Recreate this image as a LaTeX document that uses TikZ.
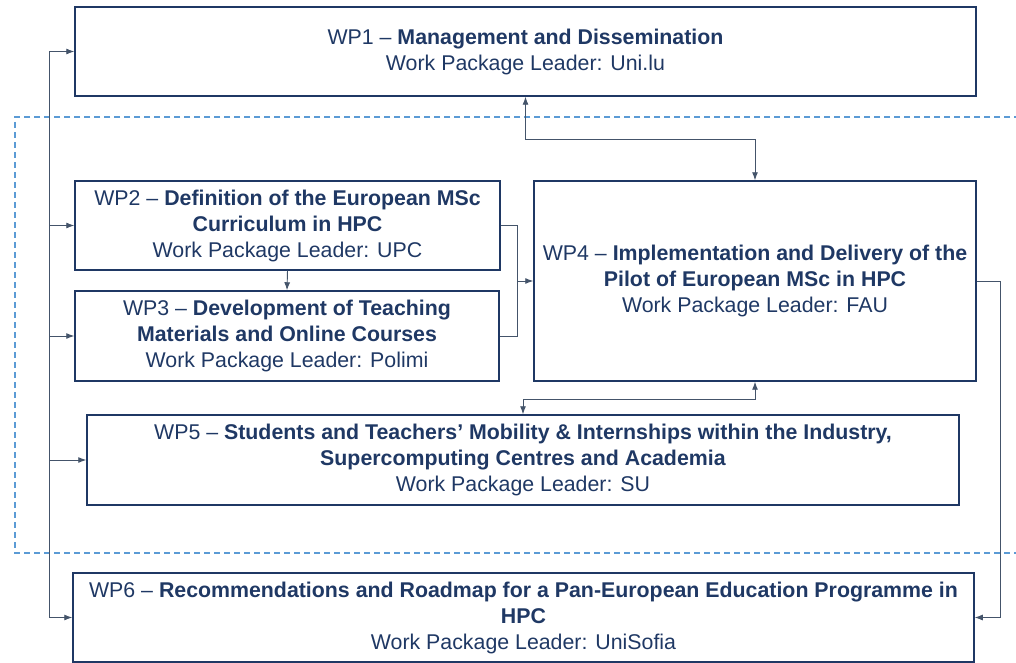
\documentclass[tikz,border=0pt]{standalone}
\usepackage{fontspec}
\setmainfont{Liberation Sans}
\usetikzlibrary{arrows.meta}
\definecolor{navy}{HTML}{1F3864}
\definecolor{linkgrey}{HTML}{44546A}
\definecolor{dashblue}{HTML}{5B9BD5}

\begin{document}
\begin{tikzpicture}[x=0.75pt,y=-0.75pt]
\useasboundingbox (0,0) rectangle (1016,663);

\tikzstyle{wpbox} = [draw=navy, line width=1.1pt, text=navy, align=center, inner sep=0pt, font=\fontsize{16}{19.5}\selectfont]
\tikzstyle{link} = [draw=linkgrey, line width=0.7pt]
\tikzstyle{tip} = [-{Latex[length=6pt,width=4.5pt]}]
\tikzstyle{tips} = [{Latex[length=6pt,width=4.5pt]}-{Latex[length=6pt,width=4.5pt]}]

% dashed frame round WP2 to WP5
\draw[dashblue, line width=0.8pt, dash pattern=on 4.5pt off 3pt] (1030,117) -- (15,117) -- (15,553) -- (1030,553);

% Work packages
\node[wpbox, minimum width=675.75pt, minimum height=66.75pt] (wp1) at (525.5,51.5) {WP1 -- \textbf{Management and Dissemination}\\Work Package Leader: Uni.lu};
\node[wpbox, minimum width=318.75pt, minimum height=66.75pt] (wp2) at (287.5,225.5) {WP2 -- \textbf{Definition of the European MSc}\\\textbf{Curriculum in HPC}\\Work Package Leader: UPC};
\node[wpbox, minimum width=318pt, minimum height=67.5pt] (wp3) at (287,336) {WP3 -- \textbf{Development of Teaching}\\\textbf{Materials and Online Courses}\\Work Package Leader: Polimi};
\node[wpbox, minimum width=331.5pt, minimum height=150pt] (wp4) at (755,281) {WP4 -- \textbf{Implementation and Delivery of the}\\\textbf{Pilot of European MSc in HPC}\\Work Package Leader: FAU};
\node[wpbox, minimum width=654pt, minimum height=67.5pt] (wp5) at (523,460) {WP5 -- \textbf{Students and Teachers’ Mobility \& Internships within the Industry,}\\\textbf{Supercomputing Centres and Academia}\\Work Package Leader: SU};
\node[wpbox, minimum width=675.75pt, minimum height=66.75pt] (wp6) at (523.5,617.5) {WP6 -- \textbf{Recommendations and Roadmap for a Pan-European Education Programme in}\\\textbf{HPC}\\Work Package Leader: UniSofia};

% Left bus
\coordinate (bus) at (49,0);
\draw[link] (bus |- wp1.west) -- (bus |- wp6.west);
\foreach \n in {wp1, wp2, wp3, wp5, wp6}
\draw[link, tip] (bus |- \n.west) -- (\n.west);

% Links between packages
\draw[link, tips] (wp1.south) -- ++(0,43) -| (wp4.north);
\draw[link, tip] (wp2.south) -- (wp3.north);
\draw[link] (wp2.east) -- ++(17,0) |- (wp3.east);
\coordinate (merge) at (517,281);
\draw[link, tip] (merge) -- (wp4.west);
\draw[link, tips] (wp4.south) -- ++(0,18) -| (wp5.north);
\draw[link, tip] (wp4.east) -- ++(24,0) |- (wp6.east);

\end{tikzpicture}
\end{document}
